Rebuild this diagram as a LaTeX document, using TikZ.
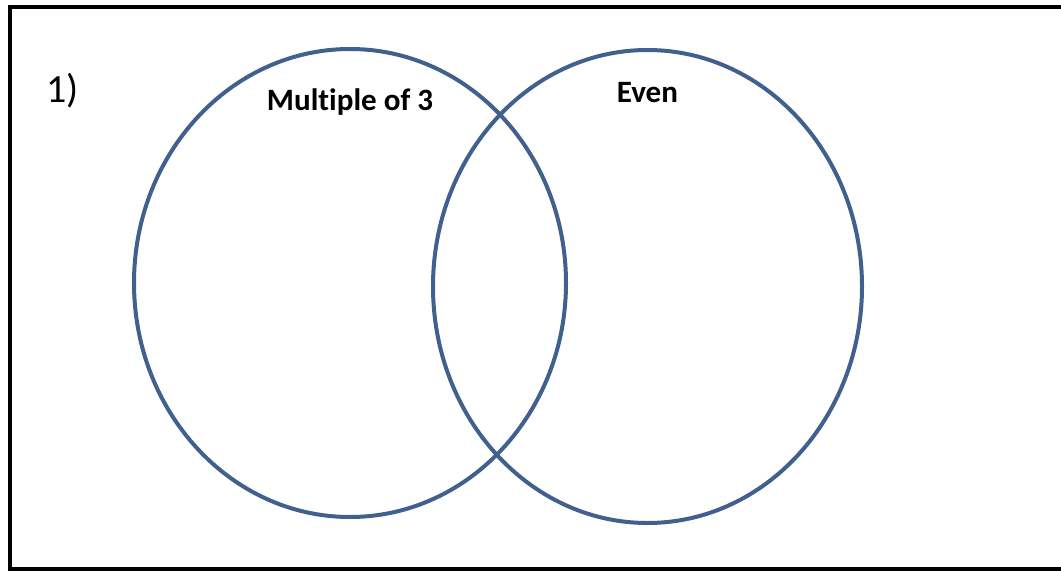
\documentclass[tikz,border=0pt]{standalone}
\usepackage{fontspec}
\setmainfont{Carlito}[Ligatures={TeX,NoCommon}]
\definecolor{vennblue}{RGB}{64,96,142}
\tikzset{
  setline/.style={draw=vennblue,line width=3pt},
  setlabel/.style={font=\bfseries\fontsize{23.3}{26}\selectfont,anchor=base,inner sep=0pt},
}
\begin{document}
\begin{tikzpicture}[x=.75pt,y=-.75pt]
				\clip (0,0) rectangle (1061,571);
				\draw[line width=3pt]
				(10,7) rectangle (1090,569);
				% the two sets
				\draw[setline] (350,283) ellipse [x radius=216,y radius=234];
				\draw[setline] (647.5,286.5) ellipse [x radius=214.5,y radius=236.5];
				\path
				(62.5,102) node[anchor=base,inner sep=0pt,font=\fontsize{30}{32}\selectfont] (num) {1)}
				(350,110) node[setlabel] (mult) {Multiple of 3}
				(647.5,102) node[setlabel] (even) {Even};
			\end{tikzpicture}
\end{document}
